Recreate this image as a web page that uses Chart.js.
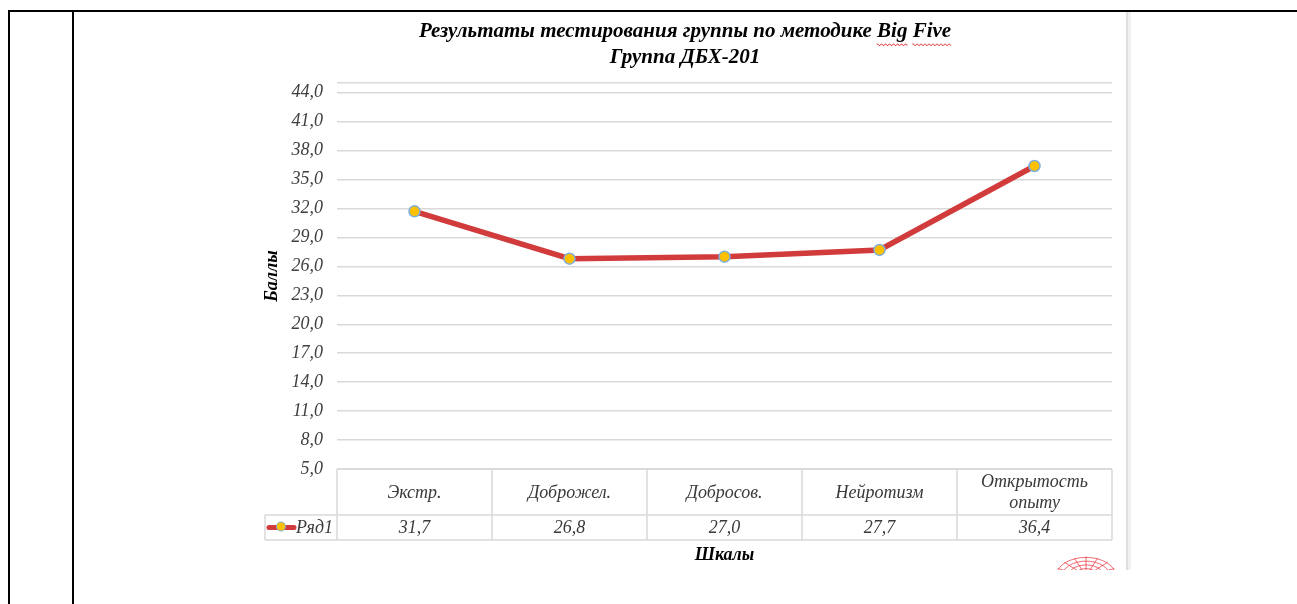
<!DOCTYPE html>
<html>
<head>
<meta charset="utf-8">
<script src="https://cdn.jsdelivr.net/npm/chart.js@4/dist/chart.umd.min.js"></script>
<style>
  html, body { margin: 0; padding: 0; background: #fff; }
  #wrap { position: relative; width: 1297px; height: 604px; overflow: hidden; }
  canvas { position: absolute; left: 0; top: 0; }
  .ln { position: absolute; background: #000; }
</style>
</head>
<body>
<div id="wrap">
  <canvas id="c" width="1297" height="604"></canvas>
  <div class="ln" style="left:8px;top:10px;width:1289px;height:2px;"></div>
  <div class="ln" style="left:8px;top:10px;width:2px;height:594px;"></div>
  <div class="ln" style="left:72px;top:10px;width:2px;height:594px;"></div>
  <div class="ln" style="left:1126px;top:12px;width:2px;height:558px;background:#dedede;"></div>
  <div class="ln" style="left:1128px;top:12px;width:3px;height:558px;background:#f0f0f0;"></div>
</div>
<script>
const titleLines = ['Результаты тестирования группы по методике Big Five', 'Группа ДБХ-201'];
const categories = ['Экстр.', 'Доброжел.', 'Добросов.', 'Нейротизм', ['Открытость', 'опыту']];
const seriesName = 'Ряд1';
const seriesValues = [31.7, 26.8, 27.0, 27.7, 36.4];
const yTickValues = [5, 8, 11, 14, 17, 20, 23, 26, 29, 32, 35, 38, 41, 44];
const yMin = 5;
const yMax = 45;
const yTitle = 'Баллы';
const xTitle = 'Шкалы';

const FONT = "'Liberation Serif', 'Times New Roman', serif";
const TITLE_SIZE = 21;
const fmt = v => v.toFixed(1).replace('.', ',');
const lineColor = '#d13b3b';
const markerFill = '#ffc000';
const markerBorder = '#7cafdc';
const gridColor = '#d9d9d9';
const textColor = '#3a3a3a';

const tablePlugin = {
  id: 'dataTable',
  afterDraw(chart) {
    const ctx = chart.ctx;
    const x = chart.scales.x;
    const area = chart.chartArea;
    const colW = x.getPixelForValue(1) - x.getPixelForValue(0);
    const top = area.bottom;
    const mid = top + 46;
    const bot = mid + 25;
    const legL = area.left - 72;
    ctx.save();
    ctx.strokeStyle = gridColor;
    ctx.lineWidth = 1.5;
    ctx.beginPath();
    ctx.moveTo(area.left, top); ctx.lineTo(area.right, top);
    ctx.moveTo(legL, mid); ctx.lineTo(area.right, mid);
    ctx.moveTo(legL, bot); ctx.lineTo(area.right, bot);
    for (let i = 0; i <= categories.length; i++) {
      const xx = x.getPixelForValue(0) - colW / 2 + i * colW;
      ctx.moveTo(xx, top); ctx.lineTo(xx, bot);
    }
    ctx.moveTo(legL, mid); ctx.lineTo(legL, bot);
    ctx.stroke();

    ctx.fillStyle = textColor;
    ctx.font = 'italic 18px ' + FONT;
    ctx.textAlign = 'center';
    ctx.textBaseline = 'middle';
    categories.forEach((c, i) => {
      const cx = x.getPixelForValue(i);
      const lines = Array.isArray(c) ? c : [c];
      const lh = 21;
      const y0 = (top + mid) / 2 + 1 - (lines.length - 1) * lh / 2;
      lines.forEach((t, k) => ctx.fillText(t, cx, y0 + k * lh));
    });
    seriesValues.forEach((v, i) => {
      ctx.fillText(fmt(v), x.getPixelForValue(i), (mid + bot) / 2 + 1);
    });

    // legend key
    const ly = (mid + bot) / 2;
    ctx.strokeStyle = lineColor;
    ctx.lineWidth = 5;
    ctx.lineCap = 'round';
    ctx.beginPath();
    ctx.moveTo(legL + 4, ly); ctx.lineTo(legL + 29, ly);
    ctx.stroke();
    ctx.beginPath();
    ctx.arc(legL + 16, ly - 1, 4.5, 0, Math.PI * 2);
    ctx.fillStyle = markerFill;
    ctx.fill();
    ctx.strokeStyle = markerBorder;
    ctx.lineWidth = 1;
    ctx.stroke();
    ctx.fillStyle = textColor;
    ctx.textAlign = 'left';
    ctx.fillText(seriesName, legL + 31, ly + 1);

    // x axis title
    ctx.fillStyle = '#000';
    ctx.font = 'bold italic 18px ' + FONT;
    ctx.textAlign = 'center';
    ctx.fillText(xTitle, (area.left + area.right) / 2, bot + 15);

    // spell-check wavy underline under "Big Five"
    const t = chart.titleBlock;
    if (t) {
      ctx.font = 'bold italic ' + TITLE_SIZE + 'px ' + FONT;
      const full = titleLines[0];
      const w = ctx.measureText(full).width;
      const startX = (t.left + t.right) / 2 - w / 2;
      const idx = full.indexOf('Big Five');
      const pre = ctx.measureText(full.slice(0, idx)).width;
      const bigW = ctx.measureText('Big').width;
      const spW = ctx.measureText('Big ').width;
      const fiveW = ctx.measureText('Five').width;
      const uy = 44.5;
      ctx.strokeStyle = '#e02020';
      ctx.lineWidth = 0.8;
      [[startX + pre, bigW], [startX + pre + spW, fiveW]].forEach(([sx, ww]) => {
        ctx.beginPath();
        for (let k = 0; k <= ww; k += 1) {
          const yy = uy + ((Math.floor(k / 2) % 2) ? 1 : -0.5);
          if (k === 0) ctx.moveTo(sx + k, yy); else ctx.lineTo(sx + k, yy);
        }
        ctx.stroke();
      });
    }

    // red decoration at lower right
    ctx.beginPath();
    ctx.rect(1040, 540, 90, 30);
    ctx.clip();
    ctx.strokeStyle = 'rgba(230,40,50,0.85)';
    ctx.lineWidth = 0.8;
    const cx = 1086, cy = 576;
    for (let r = 6; r <= 30; r += 6) {
      ctx.beginPath();
      ctx.ellipse(cx, cy, r, r * 0.62, 0, Math.PI, 2 * Math.PI);
      ctx.stroke();
    }
    for (let a = 0; a <= 8; a++) {
      const ang = Math.PI + a * Math.PI / 8;
      ctx.beginPath();
      ctx.moveTo(cx, cy);
      ctx.lineTo(cx + Math.cos(ang) * 30, cy + Math.sin(ang) * 19);
      ctx.stroke();
    }
    ctx.restore();
  }
};

new Chart(document.getElementById('c'), {
  type: 'line',
  data: {
    labels: categories,
    datasets: [{
      label: seriesName,
      data: seriesValues,
      borderColor: lineColor,
      borderWidth: 5.5,
      tension: 0,
      pointRadius: 5.5,
      pointBackgroundColor: markerFill,
      pointBorderColor: markerBorder,
      pointBorderWidth: 1.5,
      fill: false
    }]
  },
  options: {
    responsive: false,
    animation: false,
    devicePixelRatio: 1,
    layout: { padding: { left: 258, right: 185, top: 0, bottom: 135 } },
    plugins: {
      legend: { display: false },
      tooltip: { enabled: false },
      title: {
        display: true,
        text: titleLines,
        color: '#000',
        font: { family: FONT, size: TITLE_SIZE, weight: 'bold', style: 'italic', lineHeight: 26 / TITLE_SIZE },
        padding: { top: 19, bottom: 12 }
      }
    },
    scales: {
      x: {
        type: 'category',
        offset: true,
        display: false
      },
      y: {
        min: yMin,
        max: yMax,
        afterBuildTicks(scale) {
          scale.ticks = yTickValues.concat([yMax]).map(v => ({ value: v }));
        },
        afterFit(scale) { scale.width = 79; },
        ticks: {
          padding: 14,
          color: '#404040',
          font: { family: FONT, size: 18, style: 'italic' },
          callback: v => (v === yMax ? '' : fmt(v))
        },
        grid: { color: gridColor, lineWidth: 1.5, drawTicks: false },
        border: { display: false },
        title: {
          display: true,
          text: yTitle,
          color: '#000',
          font: { family: FONT, size: 18, weight: 'bold', style: 'italic' }
        }
      }
    }
  },
  plugins: [tablePlugin]
});
</script>
</body>
</html>
